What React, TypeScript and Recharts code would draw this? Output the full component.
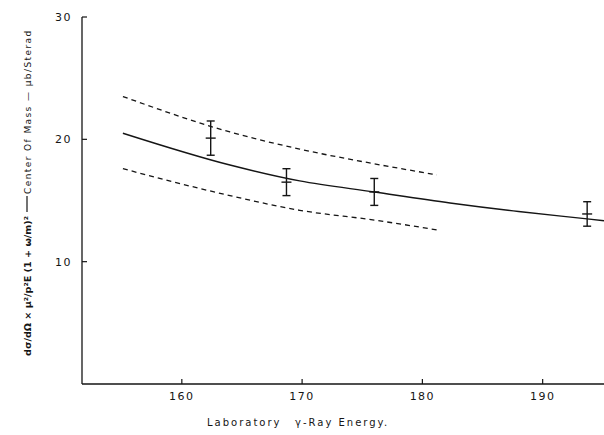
import { ComposedChart, Line, Scatter, ErrorBar, XAxis, YAxis, Label } from "recharts";

// energy (MeV) vs cross section
const theory = [
  { x: 155.1, y: 20.5 },
  { x: 164, y: 17.9 },
  { x: 169.8, y: 16.6 },
  { x: 176, y: 15.7 },
  { x: 182.3, y: 14.8 },
  { x: 188, y: 14.1 },
  { x: 193.7, y: 13.5 },
  { x: 195.1, y: 13.35 },
];

const upperBand = [
  { x: 155.1, y: 23.5 },
  { x: 164, y: 20.6 },
  { x: 169.8, y: 19.2 },
  { x: 176, y: 18.0 },
  { x: 181.2, y: 17.1 },
];

const lowerBand = [
  { x: 155.1, y: 17.6 },
  { x: 164, y: 15.4 },
  { x: 169.8, y: 14.2 },
  { x: 176, y: 13.4 },
  { x: 181.2, y: 12.6 },
];

const measured = [
  { x: 162.4, y: 20.1, err: 1.4 },
  { x: 168.7, y: 16.5, err: 1.1 },
  { x: 176.0, y: 15.7, err: 1.1 },
  { x: 193.7, y: 13.9, err: 1.0 },
];

const xTicks = [160, 170, 180, 190];
const yTicks = [10, 20, 30];

const INK = "#151515";
const FONT = "'DejaVu Sans', sans-serif";

const XTick = (props: any) => {
  const { x, y, payload } = props;
  return (
    <g>
      <line x1={x} y1={y} x2={x} y2={y - 5} stroke={INK} strokeWidth={1.2} />
      <text x={x} y={y + 16} textAnchor="middle" fontFamily={FONT} fontSize={11} letterSpacing={1.5} fill={INK}>
        {payload.value}
      </text>
    </g>
  );
};

const YTick = (props: any) => {
  const { x, y, payload } = props;
  return (
    <g>
      <line x1={x} y1={y} x2={x + 5} y2={y} stroke={INK} strokeWidth={1.2} />
      <text x={x - 10} y={y + 4} textAnchor="end" fontFamily={FONT} fontSize={11} letterSpacing={1.5} fill={INK}>
        {payload.value}
      </text>
    </g>
  );
};

const Mark = (props: any) => {
  const { cx, cy } = props;
  return <line x1={cx - 5} y1={cy} x2={cx + 5} y2={cy} stroke={INK} strokeWidth={1.4} />;
};

const XTitle = () => (
  <text y={426} fontFamily={FONT} fontSize={10} letterSpacing={2} fill={INK}>
    <tspan x={207}>Laboratory</tspan>
    <tspan x={295}>γ-Ray Energy.</tspan>
  </text>
);

const YTitle = () => (
  <g fontFamily={FONT} fill={INK}>
    <text transform="translate(31, 356) rotate(-90)" fontSize={8.5} fontWeight="bold" textLength={140} lengthAdjust="spacingAndGlyphs">
      dσ/dΩ × μ²/p²E (1 + ω/m)²
    </text>
    <line x1={27} y1={212} x2={27} y2={196} stroke={INK} strokeWidth={1.2} />
    <text transform="translate(31, 194) rotate(-90)" fontSize={9} letterSpacing={0.8} textLength={164} lengthAdjust="spacing">
      Center Of Mass — μb/Sterad
    </text>
  </g>
);

export default function App() {
  return (
    <div style={{ position: "absolute", left: 0, top: 0, background: "#fff" }}>
      <ComposedChart width={604} height={435} margin={{ top: 17, right: 0, bottom: 0, left: 0 }}>
        <XAxis
          dataKey="x"
          type="number"
          domain={[151.7, 195.1]}
          ticks={xTicks}
          allowDataOverflow
          height={51}
          tickSize={0}
          tickMargin={0}
          tickLine={false}
          tick={<XTick />}
          axisLine={{ stroke: INK, strokeWidth: 1.3 }}
        >
          <Label content={<XTitle />} />
        </XAxis>
        <YAxis
          type="number"
          domain={[0, 30]}
          ticks={yTicks}
          width={82}
          tickSize={0}
          tickMargin={0}
          tickLine={false}
          tick={<YTick />}
          axisLine={{ stroke: INK, strokeWidth: 1.3 }}
        >
          <Label content={<YTitle />} />
        </YAxis>
        <Line data={upperBand} dataKey="y" type="monotone" stroke={INK} strokeWidth={1.3} strokeDasharray="5 4" dot={false} isAnimationActive={false} />
        <Line data={lowerBand} dataKey="y" type="monotone" stroke={INK} strokeWidth={1.3} strokeDasharray="5 4" dot={false} isAnimationActive={false} />
        <Line data={theory} dataKey="y" type="monotone" stroke={INK} strokeWidth={1.4} dot={false} isAnimationActive={false} />
        <Scatter data={measured} dataKey="y" shape={<Mark />} isAnimationActive={false}>
          <ErrorBar dataKey="err" direction="y" width={4} stroke={INK} strokeWidth={1.4} isAnimationActive={false} />
        </Scatter>
      </ComposedChart>
    </div>
  );
}
